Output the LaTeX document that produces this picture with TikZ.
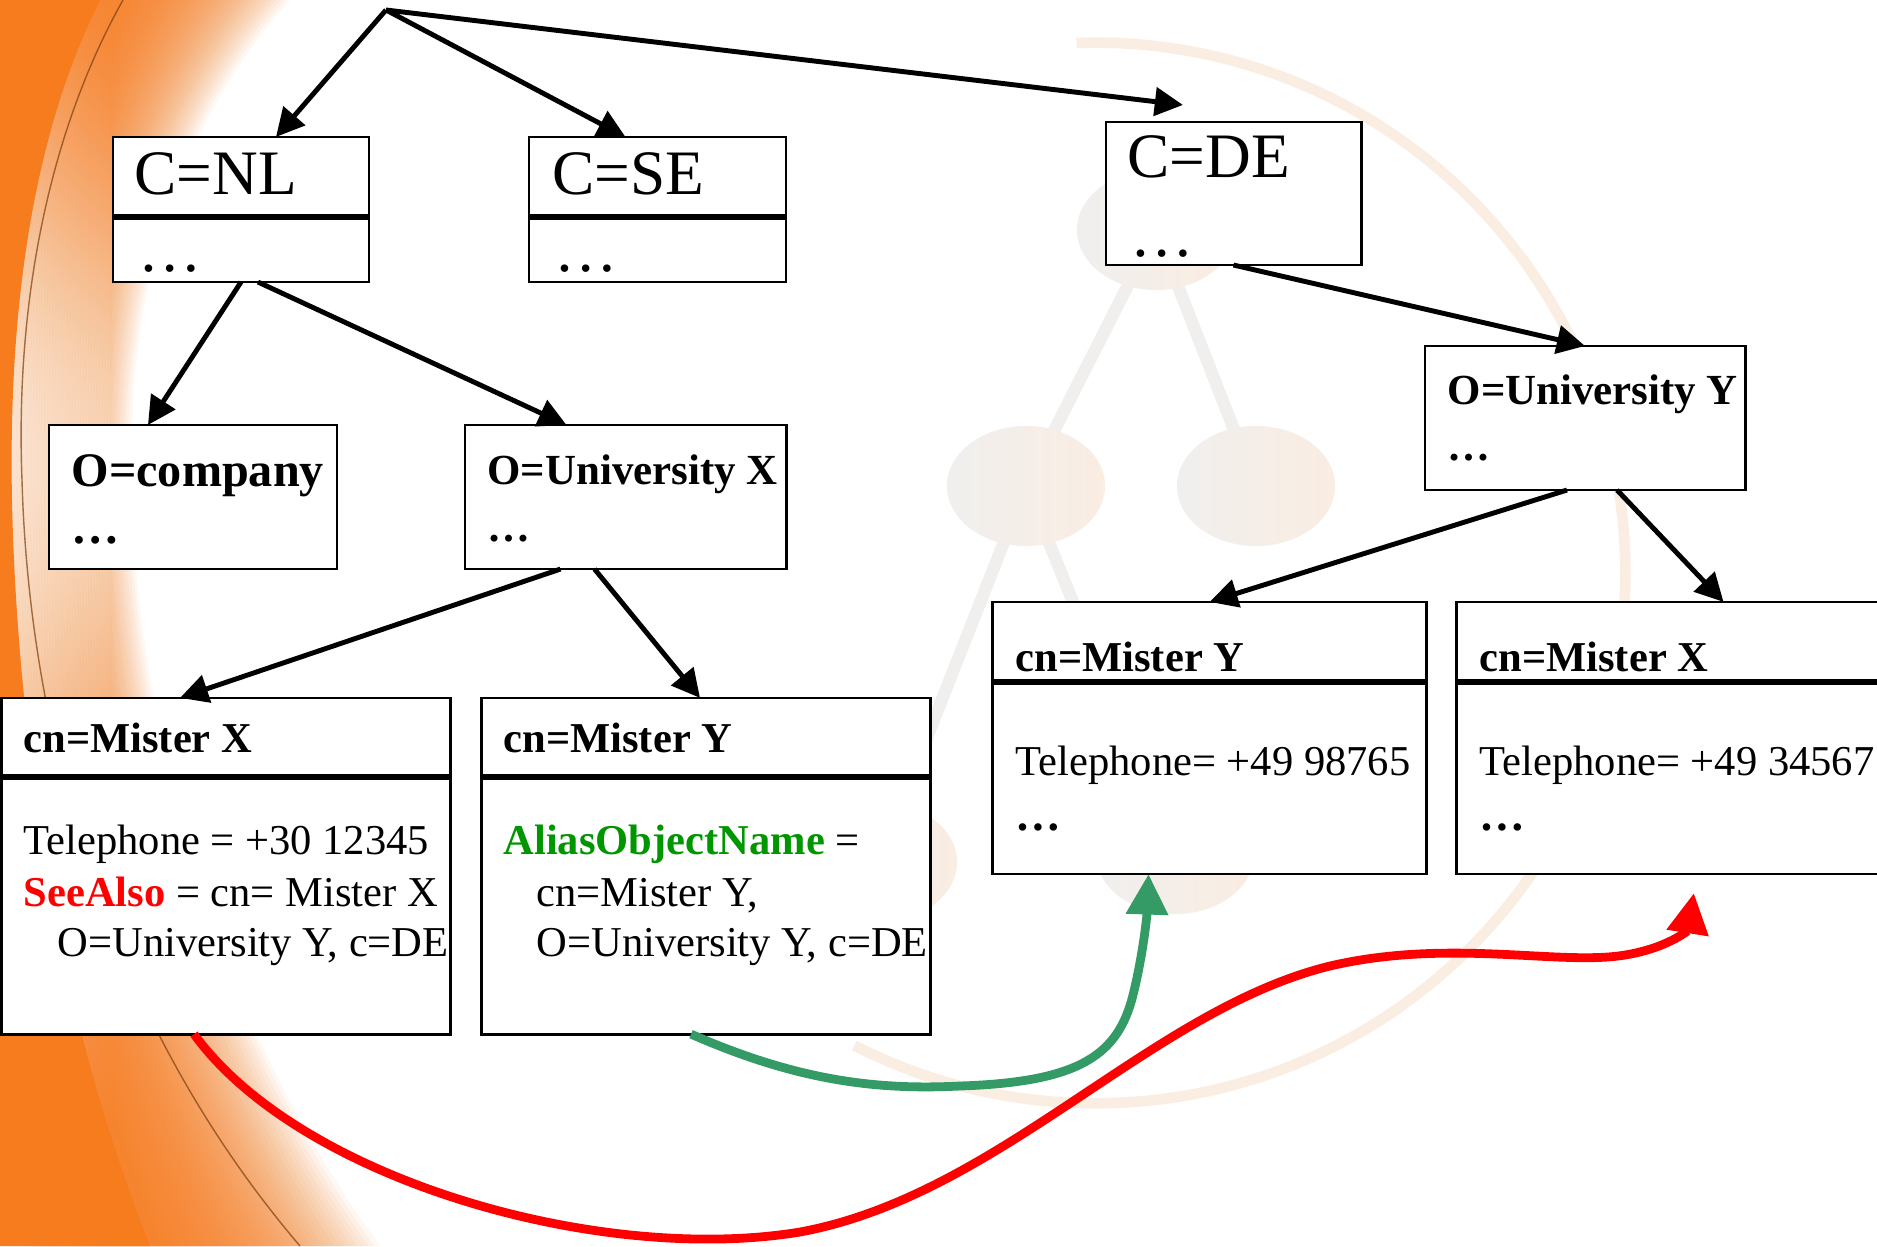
\documentclass[tikz,border=0pt]{standalone}
\usepackage{fontspec}
\setmainfont{Liberation Serif}
\usetikzlibrary{arrows.meta,calc}

\definecolor{bgorange}{RGB}{246,124,30}
\definecolor{seered}{RGB}{255,0,0}
\definecolor{aliasgreen}{RGB}{0,150,0}
\definecolor{linkgreen}{RGB}{52,154,102}
\definecolor{wmcream}{RGB}{250,237,226}
\definecolor{wmgray}{RGB}{240,239,238}

\begin{document}
\begin{tikzpicture}[
        x=0.01cm, y=-0.01cm,
        box/.style={draw, fill=white, line width=0.8pt, inner sep=0pt, outer sep=0pt},
        divider/.style={line width=1.5pt},
        link/.style={-{Triangle[length=8pt,width=8pt]}, line width=1.4pt},
        alias/.style={-{Triangle[length=11.5pt,width=11.5pt]}, line width=2.5pt, draw=linkgreen},
        seealso/.style={-{Triangle[length=11.5pt,width=11.5pt]}, line width=2.5pt, draw=seered},
        lbl/.style={anchor=base west, inner sep=0pt},
        ctext/.style={lbl, font=\fontsize{18}{20}\selectfont},
        otext/.style={lbl, font=\bfseries\fontsize{12.2}{14}\selectfont},
        cohead/.style={lbl, font=\bfseries\fontsize{13.7}{15}\selectfont},
        cnhead/.style={lbl, font=\bfseries\fontsize{12.1}{14}\selectfont},
        cntext/.style={lbl, font=\fontsize{12.1}{14}\selectfont},
        cndots/.style={lbl, font=\bfseries\fontsize{13}{14}\selectfont},
        wmline/.style={line width=3.5pt, draw=wmgray},
        wmnode/.style={left color=wmgray, right color=wmcream}
    ]

    \useasboundingbox (0,0) rectangle (1877,1246);
    \fill[white] (0,0) rectangle (1877,1246);

    % =====================================================
    % Background: orange swirl and faded tree
    % =====================================================
    \fill[bgorange] (0,0) -- (100,0) .. controls (35,130) and (8,300) .. (12,500)
        .. controls (16,700) and (50,1000) .. (150,1246) -- (0,1246) -- cycle;
    \foreach \k in {1,...,40} {
        \fill[bgorange, opacity=0.055, xshift=\k*0.0275cm, xscale=1+\k*0.02]
            (0,0) -- (100,0) .. controls (35,130) and (8,300) .. (12,500)
            .. controls (16,700) and (50,1000) .. (150,1246) -- (0,1246) -- cycle;
    }
    \draw[black!50!bgorange, line width=0.4pt, opacity=0.7]
        (123,0) .. controls (50,130) and (15,300) .. (22,480)
        .. controls (28,700) and (90,1000) .. (300,1246);

    \draw[wmcream, line width=3pt] (1095,573) ++(92:5.3cm)
        arc[start angle=92, end angle=-117, radius=5.3cm];
    \draw[wmline] (1156,230) -- (1026,486) -- (878,862);
    \draw[wmline] (1156,230) -- (1256,486);
    \draw[wmline] (1026,486) -- (1175,854);
    \shade[wmnode] (1156,230) ellipse[x radius=0.79cm, y radius=0.6cm];
    \shade[wmnode] (1026,486) ellipse[x radius=0.79cm, y radius=0.6cm];
    \shade[wmnode] (1256,486) ellipse[x radius=0.79cm, y radius=0.6cm];
    \shade[wmnode] (878,862) ellipse[x radius=0.79cm, y radius=0.6cm];
    \shade[wmnode] (1175,854) ellipse[x radius=0.79cm, y radius=0.6cm];

    % =====================================================
    % Countries
    % =====================================================
    \coordinate (root) at (386,10);

    \node[box, minimum width=2.56cm, minimum height=1.45cm] (nl) at (241,209.5) {};
    \draw[divider] ($(nl.north west)+(0,80)$) -- ($(nl.north east)+(0,80)$);
    \node[ctext] (nlname) at ($(nl.north west)+(21,58)$) {C=NL};
    \node[ctext] (nldots) at ($(nl.north west)+(25,135)$) {…};

    \node[box, minimum width=2.57cm, minimum height=1.45cm] (se) at (657.5,209.5) {};
    \draw[divider] ($(se.north west)+(0,80)$) -- ($(se.north east)+(0,80)$);
    \node[ctext] (sename) at ($(se.north west)+(23,58)$) {C=SE};
    \node[ctext] (sedots) at ($(se.north west)+(25,135)$) {…};

    \node[box, minimum width=2.55cm, minimum height=1.43cm] (de) at (1233.5,193.5) {};
    \node[ctext] (dename) at ($(de.north west)+(21,56)$) {C=DE};
    \node[ctext] (dedots) at ($(de.north west)+(24,135)$) {…};

    % =====================================================
    % Organisations
    % =====================================================
    \node[box, minimum width=2.88cm, minimum height=1.44cm] (co) at (193,497) {};
    \node[cohead] (coname) at ($(co.north west)+(22,62)$) {O=company};
    \node[cohead] (codots) at ($(co.north west)+(22,119)$) {…};

    \node[box, minimum width=3.21cm, minimum height=1.44cm] (ux) at (625.5,497) {};
    \node[otext] (uxname) at ($(ux.north west)+(22,60)$) {O=University X};
    \node[otext] (uxdots) at ($(ux.north west)+(22,117)$) {…};

    \node[box, minimum width=3.2cm, minimum height=1.44cm] (uy) at (1585,418) {};
    \node[otext] (uyname) at ($(uy.north west)+(22,59)$) {O=University Y};
    \node[otext] (uydots) at ($(uy.north west)+(22,115)$) {…};

    % =====================================================
    % Persons
    % =====================================================
    \node[box, minimum width=4.48cm, minimum height=3.36cm] (mxl) at (226,866) {};
    \draw[divider] ($(mxl.north west)+(0,79)$) -- ($(mxl.north east)+(0,79)$);
    \node[cnhead] (mxlname) at ($(mxl.north west)+(21,55)$) {cn=Mister X};
    \begin{scope}
        \clip (mxl.north west) rectangle (mxl.south east);
        \node[cntext] (mxltel) at ($(mxl.north west)+(21,157)$) {Telephone = +30 12345};
        \node[cntext] (mxlsee) at ($(mxl.north west)+(21,209)$)
            {{\bfseries\color{seered}SeeAlso} = cn= Mister X};
        \node[cntext] (mxlorg) at ($(mxl.north west)+(55,259)$) {O=University Y, c=DE};
    \end{scope}

    \node[box, minimum width=4.48cm, minimum height=3.36cm] (myl) at (706,866) {};
    \draw[divider] ($(myl.north west)+(0,79)$) -- ($(myl.north east)+(0,79)$);
    \node[cnhead] (mylname) at ($(myl.north west)+(21,55)$) {cn=Mister Y};
    \begin{scope}
        \clip (myl.north west) rectangle (myl.south east);
        \node[cntext] (mylalias) at ($(myl.north west)+(21,157)$)
            {{\bfseries\color{aliasgreen}AliasObjectName} =};
        \node[cntext] (mylcn) at ($(myl.north west)+(54,209)$) {cn=Mister Y,};
        \node[cntext] (mylorg) at ($(myl.north west)+(54,259)$) {O=University Y, c=DE};
    \end{scope}

    \node[box, minimum width=4.33cm, minimum height=2.72cm] (myr) at (1209.5,738) {};
    \draw[divider] ($(myr.north west)+(0,80)$) -- ($(myr.north east)+(0,80)$);
    \node[cnhead] (myrname) at ($(myr.north west)+(22,70)$) {cn=Mister Y};
    \node[cntext] (myrtel) at ($(myr.north west)+(22,174)$) {Telephone= +49 98765};
    \node[cndots] (myrdots) at ($(myr.north west)+(22,229)$) {…};

    \node[box, minimum width=4.33cm, minimum height=2.72cm] (mxr) at (1673.5,738) {};
    \draw[divider] ($(mxr.north west)+(0,80)$) -- ($(mxr.north east)+(0,80)$);
    \node[cnhead] (mxrname) at ($(mxr.north west)+(22,70)$) {cn=Mister X};
    \node[cntext] (mxrtel) at ($(mxr.north west)+(22,174)$) {Telephone= +49 34567};
    \node[cndots] (mxrdots) at ($(mxr.north west)+(22,229)$) {…};

    % =====================================================
    % Tree links
    % =====================================================
    \draw[link] (root) -- ($(nl.north)+(35,0)$);
    \draw[link] (root) -- ($(se.north)+(-32,0)$);
    \draw[link] (root) -- ($(de.north west)+(77,-17)$);
    \draw[link] (nl.south) -- ($(co.north)+(-45,0)$);
    \draw[link] ($(nl.south)+(17,0)$) -- ($(ux.north)+(-59,0)$);
    \draw[link] ($(ux.south)+(-65,0)$) -- ($(mxl.north)+(-46,0)$);
    \draw[link] ($(ux.south)+(-31,0)$) -- ($(myl.north)+(-6,0)$);
    \draw[link] (de.south) -- (uy.north);
    \draw[link] ($(uy.south)+(-18,0)$) -- (myr.north);
    \draw[link] ($(uy.south)+(32,0)$) -- ($(mxr.north)+(50,0)$);

    % =====================================================
    % Alias and see-also references
    % =====================================================
    \coordinate (gyend) at ($(myr.south)+(-61,0)$);
    \coordinate (rxend) at ($(mxr.south west)+(237,19)$);

    \draw[alias] ($(myl.south)+(-15,0)$) .. controls (800,1082) and (880,1090) .. (960,1086)
        .. controls (1080,1082) and (1118,1055) .. (1133,995)
        .. controls (1143,955) and (1147,915) .. (gyend);

    \draw[seealso] ($(mxl.south)+(-32,0)$) .. controls (300,1180) and (600,1265) .. (800,1232)
        .. controls (1000,1195) and (1150,1010) .. (1330,966)
        .. controls (1450,938) and (1560,966) .. (1625,955)
        .. controls (1668,948) and (1688,930) .. (rxend);

\end{tikzpicture}
\end{document}
